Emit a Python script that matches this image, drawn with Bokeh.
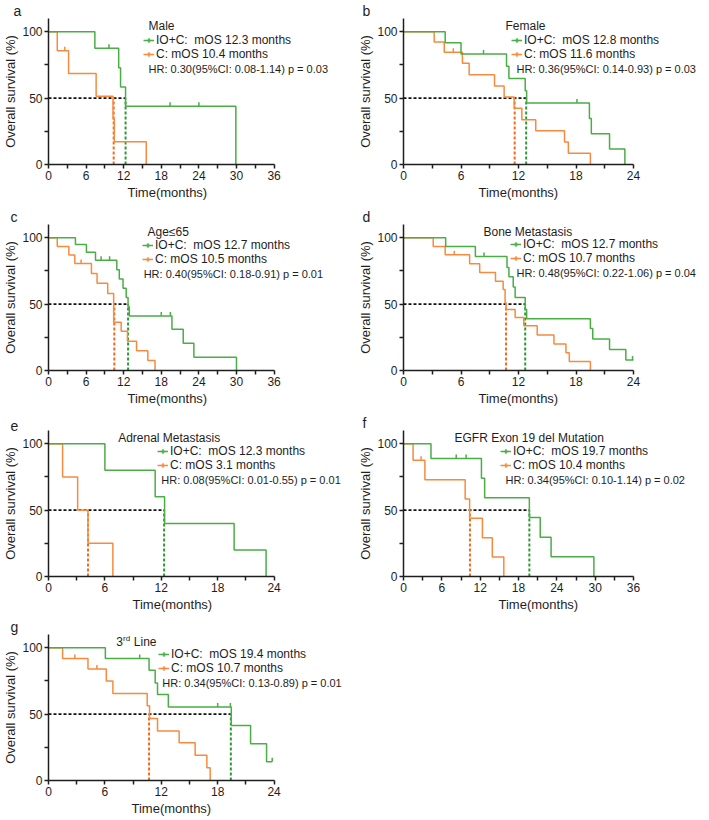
import numpy as np
from bokeh.plotting import figure
from bokeh.models import Range1d, FixedTicker, Label, Legend, LegendItem, Title
from bokeh.layouts import column, row
from bokeh.embed import file_html
from bokeh.resources import INLINE

GREEN = "#4aad46"
ORANGE = "#f68b3f"
GREEN_D = "#2f9a35"
ORANGE_D = "#f36a1e"
AX = "#1e1e1e"
FONT = "Liberation Sans"

Y_MAX = 110
DW = 230      # pixels used by the data part of each x axis
FH = 146      # frame height
TOP = 18      # space above the frame (panel letter)

# ---------------- data ----------------
# a: Male
A_IO_T = [0, 7.4, 11.2, 11.5, 12.3, 29.9]
A_IO_S = [100, 87.5, 72.9, 58.3, 43.8, 0]
A_IO_CT = [9.65, 19.4, 24.0]
A_IO_CS = [87.5, 43.8, 43.8]
A_C_T = [0, 1.4, 3.2, 7.6, 10.3, 10.5, 15.6]
A_C_S = [100, 85.7, 68.6, 51.4, 34.3, 17.1, 0]
A_C_CT = [2.6]
A_C_CS = [85.7]

# b: Female
B_IO_T = [0, 4.35, 6.0, 10.75, 11.0, 12.7, 12.85, 19.4, 19.6, 21.5, 23.1]
B_IO_S = [100, 91.7, 83.3, 74.1, 64.8, 55.6, 46.3, 34.7, 23.1, 11.6, 0]
B_IO_CT = [8.35, 18.1]
B_IO_CS = [83.3, 46.3]
B_C_T = [0, 3.2, 4.25, 6.15, 6.85, 9.5, 10.5, 11.55, 12.35, 13.8, 16.8, 17.2, 19.5]
B_C_S = [100, 92.3, 84.6, 76.2, 67.7, 59.2, 50.8, 42.3, 33.8, 25.4, 16.9, 8.5, 0]
B_C_CT = [5.2]
B_C_CS = [84.6]

# c: Age<=65
C_IO_T = [0, 4.3, 6.05, 7.5, 10.9, 11.3, 11.9, 12.4, 12.7, 12.9, 19.7, 21.5, 23.2, 30.0]
C_IO_S = [100, 95, 89, 83, 76, 69, 62, 55, 48, 41, 31, 20.5, 10, 0]
C_IO_CT = [8.4, 9.75, 18.0, 19.45]
C_IO_CS = [83, 83, 41, 41]
C_C_T = [0, 1.4, 3.25, 4.2, 6.85, 7.75, 9.45, 10.4, 11.6, 12.6, 14.05, 15.85, 17.0]
C_C_S = [100, 93.4, 87, 80.7, 73, 65.8, 58, 36.4, 29.5, 22, 14.8, 7.5, 0]
C_C_CT = [5.2]
C_C_CS = [80.7]

# d: Bone Metastasis
D_IO_T = [0, 4.4, 7.5, 10.8, 11.0, 11.45, 11.65, 12.7, 12.85, 19.5, 19.75, 21.5, 23.2, 24.0]
D_IO_S = [100, 93.4, 85.9, 77.6, 70.7, 63, 55, 46, 39, 31.7, 23.7, 15.9, 8, 8]
D_IO_CT = [8.4, 23.9]
D_IO_CS = [85.9, 8]
D_C_T = [0, 3.1, 4.35, 6.9, 7.95, 9.6, 10.4, 10.6, 10.7, 11.65, 12.55, 13.95, 15.7, 16.95, 17.3, 19.5]
D_C_S = [100, 93.4, 87.3, 80.5, 73.9, 67.3, 61, 51, 46, 40, 33.7, 26.8, 20, 13.4, 6.8, 0]
D_C_CT = [5.3]
D_C_CS = [87.3]

# e: Adrenal Metastasis
E_IO_T = [0, 6.0, 11.35, 12.35, 19.75, 23.15]
E_IO_S = [100, 80, 60, 40, 20, 0]
E_IO_CT = []
E_IO_CS = []
E_C_T = [0, 1.5, 3.1, 4.2, 6.85]
E_C_S = [100, 75, 50, 25, 0]
E_C_CT = []
E_C_CS = []

# f: EGFR Exon 19 del Mutation
F_IO_T = [0, 4.3, 12.2, 12.7, 19.7, 21.4, 23.1, 29.8]
F_IO_S = [100, 88.9, 74.1, 59.3, 44.4, 29.6, 14.8, 0]
F_IO_CT = [8.25, 9.8]
F_IO_CS = [88.9, 88.9]
F_C_T = [0, 1.5, 3.35, 9.65, 10.35, 12.35, 13.9, 15.7]
F_C_S = [100, 87.5, 72.9, 58.3, 43.8, 29.2, 14.6, 0]
F_C_CT = [2.75]
F_C_CS = [87.5]

# g: 3rd Line
G_IO_T = [0, 6.05, 10.7, 11.35, 11.6, 12.75, 19.45, 21.5, 23.2, 23.8]
G_IO_S = [100, 92, 83, 73.5, 64.8, 55.4, 41.4, 27.7, 14.2, 14.2]
G_IO_CT = [9.7, 18.0, 19.35, 23.8]
G_IO_CS = [92, 55.4, 55.4, 14.2]
G_C_T = [0, 1.5, 4.2, 6.15, 6.85, 10.5, 10.75, 11.6, 13.9, 15.6, 16.85, 17.2]
G_C_S = [100, 92, 84, 75, 65.5, 56.4, 46.7, 37.3, 28.4, 19, 9.6, 0]
G_C_CT = [2.8, 5.15]
G_C_CS = [92, 84]

LETTERS = ["a", "b", "c", "d", "e", "f", "g"]
TITLES = ["Male", "Female", "Age\u226465", "Bone Metastasis", "Adrenal Metastasis",
          "EGFR Exon 19 del Mutation", "3rd Line"]
X_MAX = [36, 24, 36, 24, 24, 36, 24]
MOS_IO = ["12.3", "12.8", "12.7", "12.7", "12.3", "19.7", "19.4"]
MOS_C = ["10.4", "11.6", "10.5", "10.7", "3.1", "10.4", "10.7"]
MED_IO = [12.3, 12.8, 12.7, 12.7, 12.3, 19.7, 19.4]   # drawn median lines
MED_C = [10.4, 11.6, 10.5, 10.7, 4.2, 10.4, 10.7]
HR = ["0.30", "0.36", "0.40", "0.48", "0.08", "0.34", "0.34"]
CI_LO = ["0.08", "0.14", "0.18", "0.22", "0.01", "0.10", "0.13"]
CI_HI = ["1.14", "0.93", "0.91", "1.06", "0.55", "1.14", "0.89"]
P_VAL = ["0.03", "0.03", "0.01", "0.04", "0.01", "0.02", "0.01"]

CURVES = [
    (A_IO_T, A_IO_S, A_IO_CT, A_IO_CS, A_C_T, A_C_S, A_C_CT, A_C_CS),
    (B_IO_T, B_IO_S, B_IO_CT, B_IO_CS, B_C_T, B_C_S, B_C_CT, B_C_CS),
    (C_IO_T, C_IO_S, C_IO_CT, C_IO_CS, C_C_T, C_C_S, C_C_CT, C_C_CS),
    (D_IO_T, D_IO_S, D_IO_CT, D_IO_CS, D_C_T, D_C_S, D_C_CT, D_C_CS),
    (E_IO_T, E_IO_S, E_IO_CT, E_IO_CS, E_C_T, E_C_S, E_C_CT, E_C_CS),
    (F_IO_T, F_IO_S, F_IO_CT, F_IO_CS, F_C_T, F_C_S, F_C_CT, F_C_CS),
    (G_IO_T, G_IO_S, G_IO_CT, G_IO_CS, G_C_T, G_C_S, G_C_CT, G_C_CS),
]

# annotation layout (pixels relative to frame left / frame top)
# (title_x, title_dy, legend_x, legend_dy, hr_x, hr_dy, letter_offset, xlabel_center)
LAYOUT = [
    (102, 7, 95, 22, 102, 50, -35, 119),
    (102, 7, 108, 22, 113, 50, -41, 115),
    (101, 7, 94, 21, 97, 49, -38, 119),
    (80, 7, 107, 20, 113, 48, -41, 115),
    (71, 7, 109, 21, 115, 49, -38, 124),
    (51, 7, 97, 21, 102, 49, -41, 135),
    (69, 7, 110, 20, 116, 48, -38, 123),
]

# (figure width, figure height, left border)
SIZES = [(355, 206, 42), (352, 206, 48), (355, 206, 42), (352, 206, 48),
         (355, 204, 42), (352, 204, 48), (355, 202, 42)]


def style_axes(p, xmax):
    xt = list(range(0, xmax + 1, 3))
    p.xaxis.ticker = FixedTicker(ticks=xt)
    p.xaxis.major_label_overrides = {t: "" for t in xt if t % 6}
    p.xaxis.bounds = (0, xmax)
    yt = [0, 25, 50, 75, 100]
    p.yaxis.ticker = FixedTicker(ticks=yt)
    p.yaxis.major_label_overrides = {25: "", 75: ""}
    for ax in (p.xaxis[0], p.yaxis[0]):
        ax.axis_line_color = AX
        ax.axis_line_width = 1.5
        ax.major_tick_line_color = AX
        ax.major_tick_line_width = 1.5
        ax.major_tick_in = 0
        ax.major_tick_out = 4
        ax.minor_tick_line_color = None
        ax.major_label_text_font = FONT
        ax.major_label_text_font_size = "12px"
        ax.major_label_text_color = AX
        ax.major_label_standoff = 2
        ax.axis_label_text_font = FONT
        ax.axis_label_text_font_size = "13px"
        ax.axis_label_text_font_style = "normal"
        ax.axis_label_text_color = AX
        ax.axis_label_standoff = 1
    p.yaxis.axis_label = "Overall survival (%)"
    p.xgrid.visible = False
    p.ygrid.visible = False


def make_panel(i):
    W, H, L = SIZES[i]
    xmax = X_MAX[i]
    FWX = W - L - 1
    p = figure(width=W, height=H, x_range=Range1d(0, xmax * FWX / DW),
               y_range=Range1d(0, Y_MAX),
               output_backend="svg", toolbar_location=None,
               min_border_left=L, min_border_right=1,
               min_border_top=TOP, min_border_bottom=H - TOP - FH,
               outline_line_color=None)
    style_axes(p, xmax)

    io_t, io_s, io_ct, io_cs, c_t, c_s, c_ct, c_cs = CURVES[i]

    # median reference lines
    p.segment(x0=[0], y0=[50], x1=[max(MED_IO[i], MED_C[i])], y1=[50],
              line_color="#111111", line_width=1.6, line_dash="3 2")
    p.segment(x0=[MED_C[i]], y0=[0], x1=[MED_C[i]], y1=[50],
              line_color=ORANGE_D, line_width=2, line_dash="3 2")
    p.segment(x0=[MED_IO[i]], y0=[0], x1=[MED_IO[i]], y1=[50],
              line_color=GREEN_D, line_width=2, line_dash="3 2")

    c_line = p.step(x=c_t, y=c_s, mode="after", line_color=ORANGE, line_width=1.5)
    io_line = p.step(x=io_t, y=io_s, mode="after", line_color=GREEN, line_width=1.5)
    if c_ct:
        p.ray(x=c_ct, y=c_cs, length=4, length_units="screen", angle=np.pi / 2,
              line_color=ORANGE, line_width=1.5)
    if io_ct:
        p.ray(x=io_ct, y=io_cs, length=4, length_units="screen", angle=np.pi / 2,
              line_color=GREEN, line_width=1.5)
    # hidden markers used only to draw the tick in the legend glyph
    io_mk = p.scatter(x=io_t, y=io_s, marker="cross", size=6, line_color=GREEN,
                      line_width=1.5, visible=False)
    c_mk = p.scatter(x=c_t, y=c_s, marker="cross", size=6, line_color=ORANGE,
                     line_width=1.5, visible=False)

    tx, tdy, lx, ldy, hx, hdy, loff, xlc = LAYOUT[i]

    def dx(px):
        return px / DW * xmax

    def dy(px):
        return Y_MAX - px / FH * Y_MAX

    # panel letter
    p.title.text = LETTERS[i]
    p.title.align = "left"
    p.title.offset = loff
    p.title.standoff = 0
    p.title.text_font = FONT
    p.title.text_font_size = "14px"
    p.title.text_font_style = "normal"
    p.title.text_color = AX

    # x axis label, centred under the data part of the axis
    p.add_layout(Title(text="Time(months)", align="left", offset=xlc - 40, standoff=0,
                       text_font=FONT, text_font_size="13px", text_font_style="normal",
                       text_color=AX), "below")

    # subgroup title
    if LETTERS[i] == "g":
        p.add_layout(Label(x=dx(tx), y=dy(tdy), text="3", text_font=FONT,
                           text_font_size="12px", text_color=AX, text_baseline="middle"))
        p.add_layout(Label(x=dx(tx + 7), y=dy(tdy - 3), text="rd", text_font=FONT,
                           text_font_size="8px", text_color=AX, text_baseline="middle"))
        p.add_layout(Label(x=dx(tx + 18), y=dy(tdy), text="Line", text_font=FONT,
                           text_font_size="12px", text_color=AX, text_baseline="middle"))
    else:
        p.add_layout(Label(x=dx(tx), y=dy(tdy), text=TITLES[i], text_font=FONT,
                           text_font_size="12px", text_color=AX, text_baseline="middle"))
    # HR line
    hr_text = f"HR: {HR[i]}(95%CI: {CI_LO[i]}-{CI_HI[i]})  p = {P_VAL[i]}"
    p.add_layout(Label(x=dx(hx), y=dy(hdy), text=hr_text, text_font=FONT,
                       text_font_size="11px", text_color=AX, text_baseline="middle"))
    # legend
    items = [
        LegendItem(label=f"IO+C:  mOS {MOS_IO[i]} months", renderers=[io_line, io_mk]),
        LegendItem(label=f"C: mOS {MOS_C[i]} months", renderers=[c_line, c_mk]),
    ]
    leg = Legend(items=items, location=(lx, FH - ldy - 21), orientation="vertical",
                 glyph_width=11, glyph_height=14, label_height=14, label_standoff=2,
                 spacing=0, padding=0, margin=0, border_line_alpha=0,
                 background_fill_alpha=0, label_text_font=FONT,
                 label_text_font_size="12px", label_text_color=AX)
    p.add_layout(leg)
    return p


panels = [make_panel(i) for i in range(7)]
layout = column(
    row(panels[0], panels[1]),
    row(panels[2], panels[3]),
    row(panels[4], panels[5]),
    row(panels[6]),
)

open("out.html", "w").write(file_html(layout, INLINE))
